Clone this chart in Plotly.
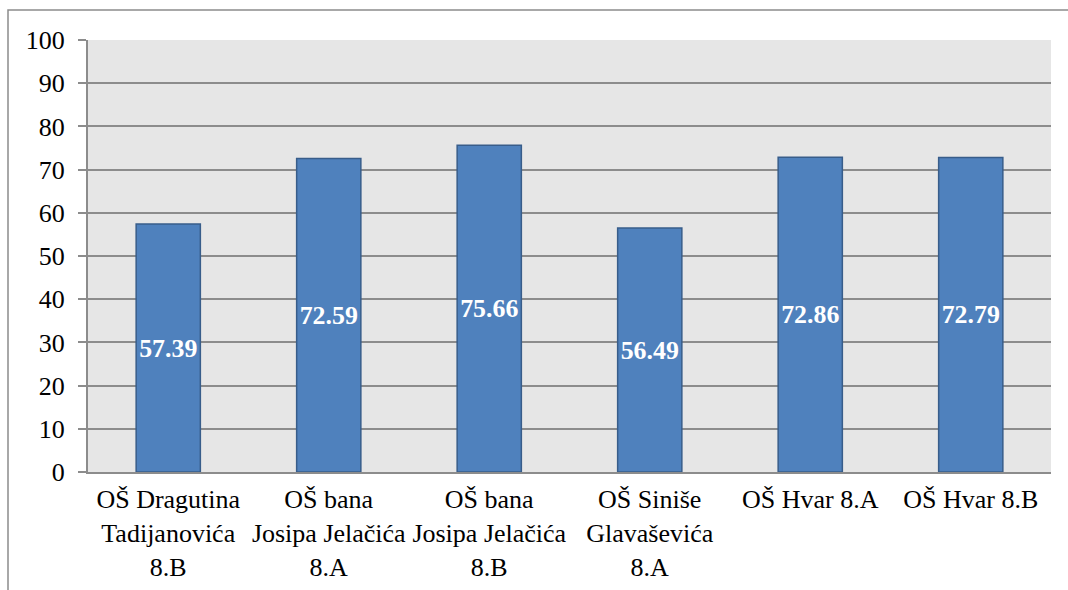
import plotly.graph_objects as go

categories = [
    "OŠ Dragutina<br>Tadijanovića<br>8.B",
    "OŠ bana<br>Josipa Jelačića<br>8.A",
    "OŠ bana<br>Josipa Jelačića<br>8.B",
    "OŠ Siniše<br>Glavaševića<br>8.A",
    "OŠ Hvar 8.A",
    "OŠ Hvar 8.B",
]
values = [57.39, 72.59, 75.66, 56.49, 72.86, 72.79]
y_ticks = [0, 10, 20, 30, 40, 50, 60, 70, 80, 90, 100]

W, H = 1068, 590
ML, MR, MT, MB = 88, 17, 40, 118
pw, ph = W - ML - MR, H - MT - MB
GRID = "#8c8c8c"
FONT = "Times New Roman, Liberation Serif, serif"

fig = go.Figure(
    go.Bar(
        x=categories,
        y=values,
        width=0.4,
        marker=dict(color="#4f81bd", line=dict(color="#385d8a", width=1.5)),
        texttemplate="<b>%{y:.2f}</b>",
        textposition="inside",
        insidetextanchor="middle",
        textangle=0,
        textfont=dict(family=FONT, size=27, color="white"),
        hoverinfo="skip",
    )
)

fig.update_layout(
    width=W,
    height=H,
    margin=dict(l=ML, r=MR, t=MT, b=MB, pad=0, autoexpand=False),
    paper_bgcolor="white",
    plot_bgcolor="#e6e6e6",
    showlegend=False,
    font=dict(family=FONT, color="black", size=26),
    uniformtext=dict(minsize=10, mode="show"),
    shapes=[
        dict(
            type="rect",
            xref="paper",
            yref="paper",
            x0=(8 - ML) / pw,
            x1=(W + 20 - ML) / pw,
            y0=-(MB + 20) / ph,
            y1=1 + (MT - 10) / ph,
            line=dict(color="#8c8c8c", width=1.5),
            fillcolor="rgba(0,0,0,0)",
            layer="below",
        )
    ],
)

fig.update_xaxes(
    showgrid=False,
    showline=True,
    linecolor=GRID,
    linewidth=2,
    ticks="",
    automargin=False,
    ticklabelstandoff=3,
    tickfont=dict(family=FONT, size=26, color="black"),
    tickangle=0,
)
fig.update_yaxes(
    range=[0, 100],
    tickvals=y_ticks,
    showgrid=True,
    gridcolor=GRID,
    gridwidth=2,
    zeroline=False,
    showline=True,
    linecolor=GRID,
    linewidth=2,
    ticks="outside",
    ticklen=8,
    tickwidth=2,
    tickcolor=GRID,
    automargin=False,
    ticklabelstandoff=8,
    tickfont=dict(family=FONT, size=26, color="black"),
)

fig.write_html(
    "out.html",
    config={"displayModeBar": False},
    post_script="document.body.style.margin='0';",
)
